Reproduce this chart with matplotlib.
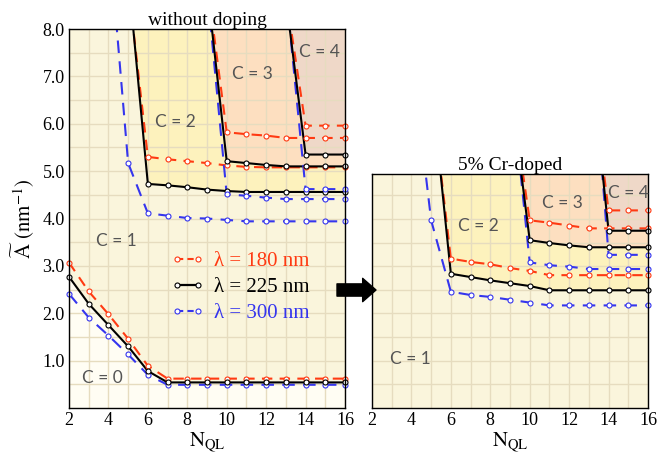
import numpy as np
import matplotlib
matplotlib.use("Agg")
import matplotlib.pyplot as plt
from matplotlib.lines import Line2D
from matplotlib.patches import FancyArrowPatch

plt.rcParams['font.family'] = ['Liberation Serif', 'DejaVu Serif']
plt.rcParams['mathtext.fontset'] = 'stix'

# ---------------- data ----------------
N_full = [2, 3, 4, 5, 6, 7, 8, 9, 10, 11, 12, 13, 14, 15, 16]
N_from4 = [4, 5, 6, 7, 8, 9, 10, 11, 12, 13, 14, 15, 16]
N_from5 = [5, 6, 7, 8, 9, 10, 11, 12, 13, 14, 15, 16]
N_from9 = [9, 10, 11, 12, 13, 14, 15, 16]
N_from13 = [13, 14, 15, 16]

# without doping
L_red_c01 = [3.07, 2.46, 1.98, 1.46, 0.89, 0.62, 0.62, 0.62, 0.62, 0.62, 0.62, 0.62, 0.62, 0.62, 0.62]
L_blk_c01 = [2.77, 2.20, 1.75, 1.30, 0.78, 0.54, 0.54, 0.54, 0.54, 0.54, 0.54, 0.54, 0.54, 0.54, 0.54]
L_blu_c01 = [2.41, 1.91, 1.53, 1.13, 0.70, 0.49, 0.49, 0.49, 0.49, 0.49, 0.49, 0.49, 0.49, 0.49, 0.49]
L_red_c12 = [8.95, 5.30, 5.25, 5.21, 5.17, 5.12, 5.09, 5.08, 5.08, 5.08, 5.08, 5.08]
L_blk_c12 = [9.15, 4.73, 4.70, 4.66, 4.61, 4.58, 4.56, 4.56, 4.56, 4.56, 4.56, 4.56]
L_blu_c12 = [10.1, 5.17, 4.11, 4.06, 4.01, 4.00, 3.97, 3.94, 3.94, 3.94, 3.94, 3.94, 3.94]
L_red_c23 = [9.02, 5.82, 5.78, 5.75, 5.70, 5.70, 5.70, 5.70]
L_blk_c23 = [8.93, 5.21, 5.17, 5.13, 5.10, 5.10, 5.10, 5.10]
L_blu_c23 = [8.87, 4.51, 4.48, 4.44, 4.41, 4.41, 4.41, 4.41]
L_red_c34 = [8.72, 5.96, 5.96, 5.96]
L_blk_c34 = [8.65, 5.35, 5.35, 5.35]
L_blu_c34 = [8.84, 4.62, 4.62, 4.62]

# 5% Cr-doped
R_red_c12 = [6.76, 3.16, 3.09, 3.04, 2.96, 2.90, 2.81, 2.81, 2.81, 2.81, 2.81, 2.81]
R_blk_c12 = [6.90, 2.84, 2.77, 2.70, 2.64, 2.58, 2.49, 2.49, 2.49, 2.49, 2.49, 2.49]
R_blu_c12 = [7.50, 3.97, 2.46, 2.39, 2.35, 2.29, 2.23, 2.17, 2.17, 2.17, 2.17, 2.17, 2.17]
R_red_c23 = [6.85, 3.97, 3.92, 3.86, 3.80, 3.80, 3.80, 3.80]
R_blk_c23 = [6.85, 3.55, 3.49, 3.44, 3.40, 3.40, 3.40, 3.40]
R_blu_c23 = [7.15, 3.08, 3.02, 2.99, 2.94, 2.94, 2.94, 2.94]
R_red_c34 = [7.50, 4.18, 4.18, 4.18]
R_blk_c34 = [7.75, 3.75, 3.75, 3.75]
R_blu_c34 = [8.60, 3.24, 3.24, 3.24]

x_ticks = [2, 4, 6, 8, 10, 12, 14, 16]
y_ticks = [1.0, 2.0, 3.0, 4.0, 5.0, 6.0, 7.0, 8.0]
y_ticklabels = ['1.0', '2.0', '3.0', '4.0', '5.0', '6.0', '7.0', '8.0']
legend_labels = ['λ = 180 nm', 'λ = 225 nm', 'λ = 300 nm']

# ---------------- style ----------------
RED = '#ff3a12'
BLK = '#000000'
BLU = '#3535ee'
C0_COL = '#fffdf3'
C1_COL = '#faf5dc'
C2_COL = '#fdf2bd'
C3_COL = '#fddfc0'
C4_COL = '#efd8c8'
GRID = '#e6dcbf'
TXT = '#555555'
MS = 3.6
MEW = 0.8

fig = plt.figure(figsize=(6.57, 4.55), dpi=100)
axL = fig.add_axes([69/657, 1-408/455, 276/657, 379/455])
axR = fig.add_axes([372/657, 1-408/455, 276/657, 234/455])


def series(ax, x, y, color, dashes, ymax):
    kw = dict(color=color, lw=1.5, zorder=3)
    if dashes:
        ax.plot(x, y, linestyle='--', dashes=dashes, **kw)
    else:
        ax.plot(x, y, linestyle='-', **kw)
    xa = np.array(x, float); ya = np.array(y, float)
    m = ya <= ymax
    ax.plot(xa[m], ya[m], linestyle='none', marker='o', ms=MS, mfc='white',
            mec=color, mew=MEW, zorder=4, clip_on=False)


def setup(ax, ymax, ylabels):
    ax.set_xlim(2, 16)
    ax.set_xticks(x_ticks)
    ax.set_xticks(np.arange(2, 17, 1), minor=True)
    ax.set_yticks(y_ticks)
    ax.set_yticks(np.arange(0.5, 8.01, 0.5), minor=True)
    ax.set_ylim(0, ymax)
    if ylabels:
        ax.set_yticklabels(y_ticklabels)
    else:
        ax.set_yticklabels([])
    ax.tick_params(which='both', length=0, labelsize=13, pad=3)
    ax.grid(True, which='both', color=GRID, lw=1.0)
    ax.set_axisbelow('line')
    for s in ax.spines.values():
        s.set_linewidth(1.0)
        s.set_zorder(5)
    ax.set_xlabel(r'$\mathrm{N_{QL}}$', fontsize=15, labelpad=1)


RD = (5, 3.5)
BD = (6, 4)

# ---- left panel ----
axL.set_facecolor(C1_COL)
axL.fill_between(N_full, 0, L_blk_c01, color=C0_COL, lw=0, zorder=1)
axL.fill_between(N_from5, L_blk_c12, 20, color=C2_COL, lw=0, zorder=1)
axL.fill_between(N_from9, L_blk_c23, 20, color=C3_COL, lw=0, zorder=1)
axL.fill_between(N_from13, L_blk_c34, 20, color=C4_COL, lw=0, zorder=1)
ymL = 8.0
for x, r, k, b, xb in [(N_full, L_red_c01, L_blk_c01, L_blu_c01, N_full),
                       (N_from5, L_red_c12, L_blk_c12, L_blu_c12, N_from4),
                       (N_from9, L_red_c23, L_blk_c23, L_blu_c23, N_from9),
                       (N_from13, L_red_c34, L_blk_c34, L_blu_c34, N_from13)]:
    series(axL, xb, b, BLU, BD, ymL)
    series(axL, x, r, RED, RD, ymL)
    series(axL, x, k, BLK, None, ymL)
setup(axL, ymL, True)
axL.set_ylabel(r'$\widetilde{\mathrm{A}}\ (\mathrm{nm}^{-1})$', fontsize=15, labelpad=4)
axL.set_title('without doping', fontsize=14, pad=3)
for txt, x, y in [('C = 0', 3.67, 0.63), ('C = 1', 4.38, 3.53), ('C = 2', 7.38, 6.04),
                  ('C = 3', 11.3, 7.04), ('C = 4', 14.7, 7.52)]:
    axL.text(x, y, txt, fontsize=12.5, color=TXT, family='Lato', ha='center', va='center', zorder=6)

handles = [Line2D([], [], color=RED, ls='--', dashes=(3, 2), lw=1.5, marker='o', ms=MS, mfc='white', mec=RED, mew=MEW),
           Line2D([], [], color=BLK, ls='-', lw=1.6, marker='o', ms=MS, mfc='white', mec=BLK, mew=MEW),
           Line2D([], [], color=BLU, ls='--', dashes=(3, 2), lw=1.5, marker='o', ms=MS, mfc='white', mec=BLU, mew=MEW)]
leg = axL.legend(handles, legend_labels, loc='center left', bbox_to_anchor=(0.30, 0.318),
                 frameon=False, fontsize=15, numpoints=2, handlelength=1.6,
                 handletextpad=0.5, labelspacing=0.3, labelcolor=[RED, BLK, BLU])
leg.set_zorder(7)

# ---- right panel ----
ymR = 4.95
axR.set_facecolor(C1_COL)
axR.fill_between(N_from5, R_blk_c12, 20, color=C2_COL, lw=0, zorder=1)
axR.fill_between(N_from9, R_blk_c23, 20, color=C3_COL, lw=0, zorder=1)
axR.fill_between(N_from13, R_blk_c34, 20, color=C4_COL, lw=0, zorder=1)
for x, r, k, b, xb in [(N_from5, R_red_c12, R_blk_c12, R_blu_c12, N_from4),
                       (N_from9, R_red_c23, R_blk_c23, R_blu_c23, N_from9),
                       (N_from13, R_red_c34, R_blk_c34, R_blu_c34, N_from13)]:
    series(axR, xb, b, BLU, BD, ymR)
    series(axR, x, r, RED, RD, ymR)
    series(axR, x, k, BLK, None, ymR)
setup(axR, ymR, False)
axR.set_title('5% Cr-doped', fontsize=14, pad=3)
for txt, x, y in [('C = 1', 3.93, 1.04), ('C = 2', 7.38, 3.85),
                  ('C = 3', 11.64, 4.33), ('C = 4', 14.99, 4.54)]:
    axR.text(x, y, txt, fontsize=12.5, color=TXT, family='Lato', ha='center', va='center', zorder=6)

# ---- arrow ----
arr = FancyArrowPatch((337/657, 1-290/455), (376/657, 1-290/455), transform=fig.transFigure,
                      arrowstyle='simple,head_length=0.6,head_width=1.05,tail_width=0.55',
                      mutation_scale=16, color='black', shrinkA=0, shrinkB=0, zorder=10)
fig.patches.append(arr)

fig.savefig('out.png', dpi=100)
